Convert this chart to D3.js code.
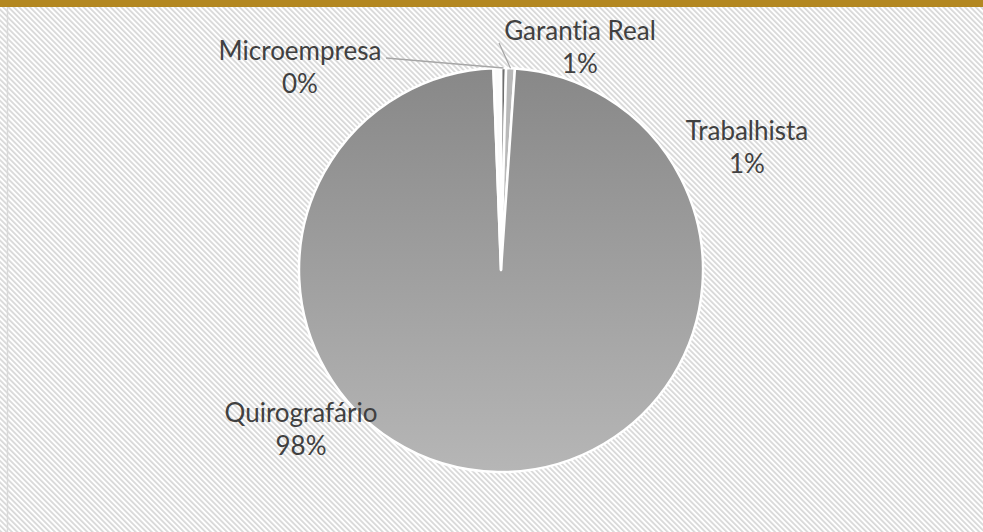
<!DOCTYPE html>
<html>
<head>
<meta charset="utf-8">
<script src="https://cdn.jsdelivr.net/npm/d3@7"></script>
<style>
  body { margin: 0; background: #fff; }
  svg { display: block; }
  text { font-family: Lato, "Open Sans", sans-serif; fill: #404040; font-variant-ligatures: none; }
</style>
</head>
<body>
<svg id="chart" width="983" height="532"></svg>
<script>
// slice order is clockwise from 12 o'clock
const categories = ["Microempresa", "Garantia Real", "Quirografário", "Trabalhista"];
const values = [0.4, 0.7, 98.3, 0.6];
const labels = ["0%", "1%", "98%", "1%"];
const sliceColors = ["#6f6f6f", "#b9b9b9", "url(#bigGrad)", "#fbfbfb"];

const width = 983, height = 532;
const cx = 501, cy = 270, radius = 202;

const svg = d3.select("#chart");
const defs = svg.append("defs");

// diagonal hatch background
const pat = defs.append("pattern")
  .attr("id", "hatch")
  .attr("patternUnits", "userSpaceOnUse")
  .attr("width", 3.8)
  .attr("height", 3.8)
  .attr("patternTransform", "rotate(-45)");
pat.append("rect").attr("width", 3.8).attr("height", 3.8).attr("fill", "#fff");
pat.append("rect").attr("width", 1.8).attr("height", 3.8).attr("fill", "#d8d8d8");

const grad = defs.append("linearGradient")
  .attr("id", "bigGrad")
  .attr("x1", 0).attr("y1", 0).attr("x2", 0).attr("y2", 1);
grad.append("stop").attr("offset", "0%").attr("stop-color", "#888888");
grad.append("stop").attr("offset", "100%").attr("stop-color", "#b6b6b6");

svg.append("rect")
  .attr("width", width)
  .attr("height", height)
  .attr("fill", "url(#hatch)");

// gold band on top
svg.append("rect")
  .attr("x", 0).attr("y", 0)
  .attr("width", width).attr("height", 7)
  .attr("fill", "#b38720");

// left grey edge
svg.append("line")
  .attr("x1", 7.5).attr("x2", 7.5)
  .attr("y1", 7).attr("y2", height)
  .attr("stroke", "#d9d9d9")
  .attr("stroke-width", 1.5);

const pie = d3.pie().sort(null).value(d => d);
const arcs = pie(values);
const arc = d3.arc().innerRadius(0).outerRadius(radius);

const g = svg.append("g").attr("transform", `translate(${cx},${cy})`);

g.selectAll("path")
  .data(arcs)
  .enter()
  .append("path")
  .attr("d", arc)
  .attr("fill", (d, i) => sliceColors[i])
  .attr("stroke", "#fff")
  .attr("stroke-width", 2.5)
  .attr("stroke-linejoin", "round");

// label positions: x centre and first baseline, same order as categories
const labelPos = [[300, 60], [580, 40], [301, 422], [747, 140]];
const leader = [true, true, false, false];
const leaderStart = [[386, 58], [499, 43]];

const edge = d3.arc().innerRadius(radius).outerRadius(radius);

arcs.forEach(function(d, i) {
  if (leader[i]) {
    const p = edge.centroid(d);
    svg.append("line")
      .attr("x1", leaderStart[i][0])
      .attr("y1", leaderStart[i][1])
      .attr("x2", cx + p[0])
      .attr("y2", cy + p[1])
      .attr("stroke", "#a6a6a6")
      .attr("stroke-width", 1.3);
  }
});

const lab = svg.append("g").selectAll("text")
  .data(categories)
  .enter()
  .append("text")
  .attr("text-anchor", "middle")
  .attr("font-size", 26)
  .attr("x", (d, i) => labelPos[i][0])
  .attr("y", (d, i) => labelPos[i][1]);

lab.append("tspan")
  .attr("x", (d, i) => labelPos[i][0])
  .attr("dy", "0")
  .text(d => d);

lab.append("tspan")
  .attr("x", (d, i) => labelPos[i][0])
  .attr("dy", 33)
  .text((d, i) => labels[i]);
</script>
</body>
</html>
